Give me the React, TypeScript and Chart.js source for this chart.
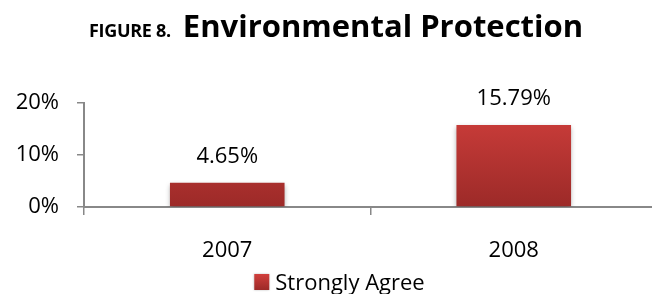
import React, { useEffect, useRef } from "react";
import { Chart, registerables } from "chart.js";

Chart.register(...registerables);

const categories = ["2007", "2008"];
const seriesName = "Strongly Agree";
const strongAgree = [4.65, 15.79];
const yTicks = [0, 10, 20];

const FONT = "'Open Sans', 'Noto Sans', sans-serif";

function redGradient(ctx: CanvasRenderingContext2D, top: number, bottom: number) {
  const g = ctx.createLinearGradient(0, top, 0, bottom);
  g.addColorStop(0, "#d13f3c");
  g.addColorStop(1, "#9c2a28");
  return g;
}

const customPlugin = {
  id: "custom",
  beforeDatasetsDraw(chart: any) {
    const ctx = chart.ctx;
    ctx.save();
    ctx.shadowColor = "rgba(0,0,0,0.35)";
    ctx.shadowBlur = 5;
    ctx.shadowOffsetX = 0;
    ctx.shadowOffsetY = 2;
  },
  afterDatasetsDraw(chart: any) {
    chart.ctx.restore();
    const ctx = chart.ctx;
    const meta = chart.getDatasetMeta(0);
    ctx.save();
    ctx.fillStyle = "#000";
    ctx.font = `22px ${FONT}`;
    ctx.textAlign = "center";
    ctx.textBaseline = "alphabetic";
    meta.data.forEach((bar: any, i: number) => {
      const v = chart.data.datasets[0].data[i] as number;
      ctx.fillText(v.toFixed(2) + "%", bar.x, bar.y - 19.5);
    });
    ctx.restore();
  },
  afterDraw(chart: any) {
    const ctx = chart.ctx;
    ctx.save();
    ctx.font = `22px ${FONT}`;
    const text = seriesName;
    const tw = ctx.measureText(text).width;
    const box = 15;
    const gap = 6;
    const total = box + gap + tw;
    const cx = 339.5;
    const x0 = cx - total / 2;
    const boxTop = 274;
    ctx.shadowColor = "rgba(0,0,0,0.25)";
    ctx.shadowBlur = 2;
    ctx.fillStyle = redGradient(ctx, boxTop, boxTop + 16);
    ctx.fillRect(x0, boxTop, box, 16);
    ctx.shadowColor = "transparent";
    ctx.fillStyle = "#000";
    ctx.textAlign = "left";
    ctx.textBaseline = "alphabetic";
    ctx.fillText(text, x0 + box + gap, 290);
    ctx.restore();
  },
};

function barGradient(context: any) {
  const chart = context.chart;
  const area = chart.chartArea;
  if (!area) return "#c0392b";
  const el = context.element;
  const top = el && isFinite(el.y) ? el.y : area.top;
  const bottom = el && isFinite(el.base) ? el.base : area.bottom;
  return redGradient(chart.ctx, top, bottom);
}

export default function App() {
  const ref = useRef<HTMLCanvasElement | null>(null);
  useEffect(() => {
    if (!ref.current) return;
    const chart = new Chart(ref.current, {
      type: "bar",
      data: {
        labels: categories,
        datasets: [
          {
            label: seriesName,
            data: strongAgree,
            backgroundColor: barGradient,
            categoryPercentage: 1,
            barPercentage: 0.4,
          },
        ],
      },
      options: {
        animation: false,
        responsive: false,
        maintainAspectRatio: false,
        layout: { padding: { top: 103, left: 0, right: 0, bottom: 0 } },
        plugins: {
          title: { display: false },
          tooltip: { enabled: false },
          legend: { display: false },
        },
        scales: {
          x: {
            afterFit: (s: any) => {
              s.height = 87;
            },
            grid: {
              display: true,
              drawOnChartArea: false,
              drawTicks: true,
              tickLength: 8,
              color: "#888",
              lineWidth: 1.5,
              offset: true,
            },
            border: { display: true, color: "#888", width: 2 },
            ticks: {
              color: "#000",
              font: { family: FONT, size: 22 },
              padding: 23,
            },
          },
          y: {
            min: 0,
            max: 20,
            afterFit: (s: any) => {
              s.width = 84;
            },
            afterBuildTicks: (s: any) => {
              s.ticks = yTicks.map((v) => ({ value: v }));
            },
            grid: {
              display: true,
              drawOnChartArea: false,
              drawTicks: true,
              tickLength: 7,
              color: "#888",
              lineWidth: 1.5,
            },
            border: { display: true, color: "#888", width: 2 },
            ticks: {
              color: "#000",
              font: { family: FONT, size: 22 },
              padding: 18,
              callback: (v: any) => v + "%",
            },
          },
        },
      },
      plugins: [customPlugin],
    });
    return () => chart.destroy();
  }, []);

  return (
    <div
      style={{
        position: "absolute",
        left: 0,
        top: 0,
        width: 652,
        height: 294,
        overflow: "hidden",
        background: "#fff",
      }}
    >
      <canvas
        ref={ref}
        width={657}
        height={294}
        style={{ position: "absolute", left: 0, top: 0, width: 657, height: 294 }}
      />
      <div
        style={{
          position: "absolute",
          left: 89,
          top: 3,
          height: 44,
          display: "flex",
          alignItems: "baseline",
          fontFamily: FONT,
          fontWeight: 700,
          color: "#000",
          whiteSpace: "nowrap",
          lineHeight: "44px",
        }}
      >
        <span style={{ fontSize: 18, letterSpacing: -0.3 }}>FIGURE 8.</span>
        <span style={{ fontSize: 31, marginLeft: 12 }}>Environmental Protection</span>
      </div>
    </div>
  );
}
